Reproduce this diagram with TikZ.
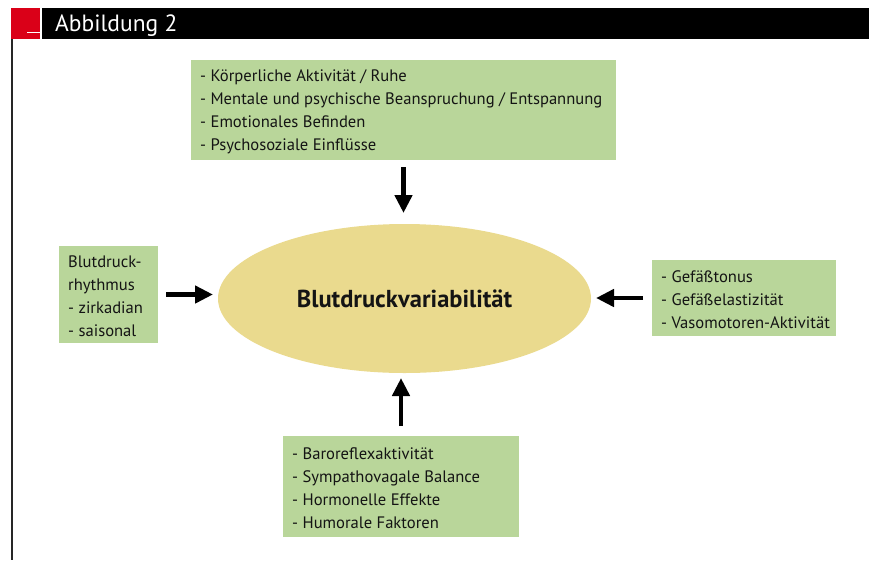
\documentclass[tikz,border=0pt]{standalone}
\usepackage{fontspec}
\setmainfont{PT Sans}
\usetikzlibrary{arrows.meta,shapes.geometric}
\definecolor{bdgreen}{HTML}{B9D69A}
\definecolor{bdyellow}{HTML}{EADA8E}
\definecolor{bdred}{HTML}{DA0018}
\definecolor{bdtext}{HTML}{141414}

\begin{document}
\begin{tikzpicture}[x=1pt,y=-1pt,
  bdbox/.style={fill=bdgreen,anchor=north west,inner sep=0pt,outer sep=0pt},
  bdlist/.style={anchor=west,align=left,inner xsep=9pt,inner ysep=0pt,yshift=-2pt,text=bdtext,
    font=\fontsize{16.6}{23}\selectfont},
  bdarrow/.style={line width=4.5pt,-{Triangle[length=18pt,width=17pt]}}]
  \useasboundingbox (0,0) rectangle (869,560);
  % header
  \fill[black] (42,8) rectangle (869,39);
  \fill[bdred] (11,8) rectangle (40,39);
  \draw[white,line width=1.5pt] (27,32.5) -- (40,32.5);
  \node[anchor=base west,text=white,font=\fontsize{23.5}{27}\selectfont,inner sep=0pt] (title) at (55,31.5){Abbildung 2};
  \draw[black!85,line width=1.6pt] (12,39) -- (12,560);
  % center
  \node[ellipse,fill=bdyellow,minimum width=373pt,minimum height=149pt,outer sep=0pt,
    font=\fontsize{24.5}{28}\selectfont\bfseries,text=bdtext] (ell) at (404.5,298.5){Blutdruckvariabilität};
  % influences
  \node[bdbox,minimum width=425pt,minimum height=100pt] (top) at (191,60){};
  \node[bdlist] (toptxt) at (top.west){- Körperliche Aktivität / Ruhe\\- Mentale und psychische Beanspruchung / Entspannung\\%
    - Emotionales Befinden\\- Psychosoziale Einflüsse};
  \node[bdbox,minimum width=99pt,minimum height=97pt] (left) at (59,246){};
  \node[bdlist] (lefttxt) at (left.west){Blutdruck-\\rhythmus\\- zirkadian\\- saisonal};
  \node[bdbox,minimum width=184pt,minimum height=76pt] (right) at (652,260){};
  \node[bdlist] (righttxt) at (right.west){- Gefäßtonus\\- Gefäßelastizität\\- Vasomotoren-Aktivität};
  \node[bdbox,minimum width=236pt,minimum height=101pt] (bot) at (283,436){};
  \node[bdlist] (bottxt) at (bot.west){- Baroreflexaktivität\\- Sympathovagale Balance\\- Hormonelle Effekte\\- Humorale Faktoren};
  \draw[bdarrow,shorten <=7pt,shorten >=11pt] (top.south) -- (top.south |- ell.north);
  \draw[bdarrow,shorten <=8pt,shorten >=5pt] (left.east) -- (left.east -| ell.west);
  \draw[bdarrow,shorten <=9pt,shorten >=5pt] (right.west) -- (right.west -| ell.east);
  \draw[bdarrow,shorten <=10pt,shorten >=5pt] (bot.north) -- (bot.north |- ell.south);
\end{tikzpicture}
\end{document}
